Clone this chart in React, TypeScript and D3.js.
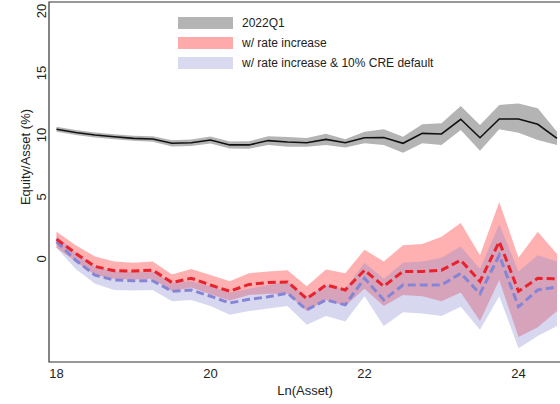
import React from "react";
import * as d3 from "d3";

const lnAsset = d3.range(27).map((i) => 18 + 0.25 * i);

const base = [10.46, 10.2, 10.0, 9.86, 9.73, 9.68, 9.33, 9.38, 9.6, 9.2, 9.2, 9.55, 9.44, 9.38, 9.65, 9.38, 9.78, 9.8, 9.33, 10.13, 10.08, 11.27, 9.78, 11.29, 11.29, 10.86, 9.73];
const baseLo = [10.26, 10.0, 9.8, 9.66, 9.53, 9.46, 9.08, 9.12, 9.32, 8.92, 8.9, 9.2, 9.05, 9.05, 9.2, 9.0, 9.33, 9.2, 8.57, 9.33, 9.2, 10.4, 8.73, 10.46, 10.19, 9.6, 9.2];
const baseHi = [10.66, 10.4, 10.2, 10.06, 9.93, 9.9, 9.58, 9.64, 9.88, 9.48, 9.5, 9.9, 9.83, 9.75, 10.1, 9.65, 10.27, 10.46, 9.86, 10.86, 10.94, 12.34, 10.8, 12.42, 12.55, 12.15, 10.27];

const rate = [1.6, 0.45, -0.6, -0.95, -0.97, -0.9, -1.9, -1.55, -2.1, -2.6, -2.05, -1.9, -1.85, -3.2, -2.1, -2.5, -0.9, -2.2, -1.0, -1.0, -0.9, -0.1, -1.8, 1.4, -2.6, -1.55, -1.6];
const rateHi = [2.2, 1.1, 0.2, -0.2, -0.3, -0.2, -1.25, -0.8, -1.3, -1.8, -1.15, -1.0, -0.9, -2.2, -0.85, -1.15, 0.75, -0.2, 1.1, 1.2, 1.8, 2.9, 0.3, 4.6, 0.1, 2.2, 0.4];
const rateLo = [0.9, -0.2, -1.3, -1.6, -1.65, -1.6, -2.6, -2.3, -2.85, -3.35, -2.9, -2.8, -2.8, -4.2, -3.3, -3.8, -2.4, -3.8, -2.9, -3.0, -3.4, -2.7, -5.0, -1.7, -6.3, -5.5, -4.2];

const cre = [1.4, -0.1, -1.3, -1.7, -1.75, -1.75, -2.6, -2.5, -3.0, -3.55, -3.25, -3.05, -2.75, -4.1, -3.3, -3.7, -1.55, -3.3, -2.1, -2.1, -2.1, -1.15, -2.8, 0.3, -3.85, -2.5, -2.25];
const creHi = [1.9, 0.5, -0.6, -1.0, -1.05, -1.0, -1.9, -1.8, -2.2, -2.7, -2.4, -2.1, -1.8, -3.0, -2.1, -2.4, -0.3, -1.6, -0.3, -0.2, 0.1, 1.0, -0.8, 2.8, -1.0, 0.3, -0.2];
const creLo = [0.9, -0.8, -2.0, -2.5, -2.55, -2.5, -3.4, -3.3, -3.8, -4.5, -4.2, -4.0, -3.8, -5.3, -4.6, -5.05, -3.0, -5.4, -4.3, -4.4, -4.6, -3.85, -5.7, -3.0, -7.2, -6.2, -5.4];

const xTicks = [18, 20, 22, 24];
const yTicks = [0, 5, 10, 15, 20];

const legendLabels = ["2022Q1", "w/ rate increase", "w/ rate increase & 10% CRE default"];
const legendColors = ["#b4b4b4", "#ffaaaa", "#d9d9f0"];

export default function App() {
  const W = 560, H = 404;
  const left = 49, right = 561, top = 2, bottom = 362;
  const x = d3.scaleLinear().domain([18, 24]).range([56.5, 518.5]);
  const y = d3.scaleLinear().domain([0, 20]).range([259, 11]);

  const area = (lo: number[], hi: number[]) =>
    d3.area<number>().x((_, i) => x(lnAsset[i])).y0((_, i) => y(lo[i])).y1((_, i) => y(hi[i]))(lnAsset) || "";
  const line = (v: number[]) =>
    d3.line<number>().x((_, i) => x(lnAsset[i])).y((_, i) => y(v[i]))(lnAsset) || "";

  const font = "'Liberation Sans', Arial, sans-serif";

  return (
    <svg width={W} height={H} style={{ position: "absolute", left: 0, top: 0, background: "#fff" }}>
      <defs>
        <clipPath id="plot">
          <rect x={left} y={top} width={right - left} height={bottom - top} />
        </clipPath>
      </defs>
      <g clipPath="url(#plot)">
        <path d={area(baseLo, baseHi)} fill="#b4b4b4" />
        <path d={area(rateLo, rateHi)} fill="rgba(255,80,80,0.45)" />
        <path d={area(creLo, creHi)} fill="rgba(140,140,210,0.35)" />
        <path d={line(base)} fill="none" stroke="#111" strokeWidth={1.6} />
        <path d={line(cre)} fill="none" stroke="#8585d6" strokeWidth={3} strokeDasharray="8,4" />
        <path d={line(rate)} fill="none" stroke="#e8232d" strokeWidth={3} strokeDasharray="8,4" />
      </g>
      <path d={`M${right},${top}H${left}V${bottom}H${right}`} fill="none" stroke="#333" strokeWidth={1.2} />
      {xTicks.map((t) => (
        <text key={t} x={x(t)} y={378} textAnchor="middle" fontFamily={font} fontSize={13} fill="#222">
          {t}
        </text>
      ))}
      {yTicks.map((t) => (
        <text key={t} transform={`translate(41,${y(t)}) rotate(-90)`} dy="0.35em" textAnchor="middle" fontFamily={font} fontSize={13} fill="#222">
          {t}
        </text>
      ))}
      <text x={305} y={395} textAnchor="middle" fontFamily={font} fontSize={13} fill="#222">Ln(Asset)</text>
      <text transform={`translate(25,157) rotate(-90)`} dy="0.35em" textAnchor="middle" fontFamily={font} fontSize={13} fill="#222">
        Equity/Asset (%)
      </text>
      {legendLabels.map((l, i) => (
        <g key={l} transform={`translate(178,${17 + i * 20})`}>
          <rect x={0} y={0} width={55} height={12} fill={legendColors[i]} />
          <text x={64} y={6} dy="0.35em" fontFamily={font} fontSize={12} fill="#222">{l}</text>
        </g>
      ))}
    </svg>
  );
}
